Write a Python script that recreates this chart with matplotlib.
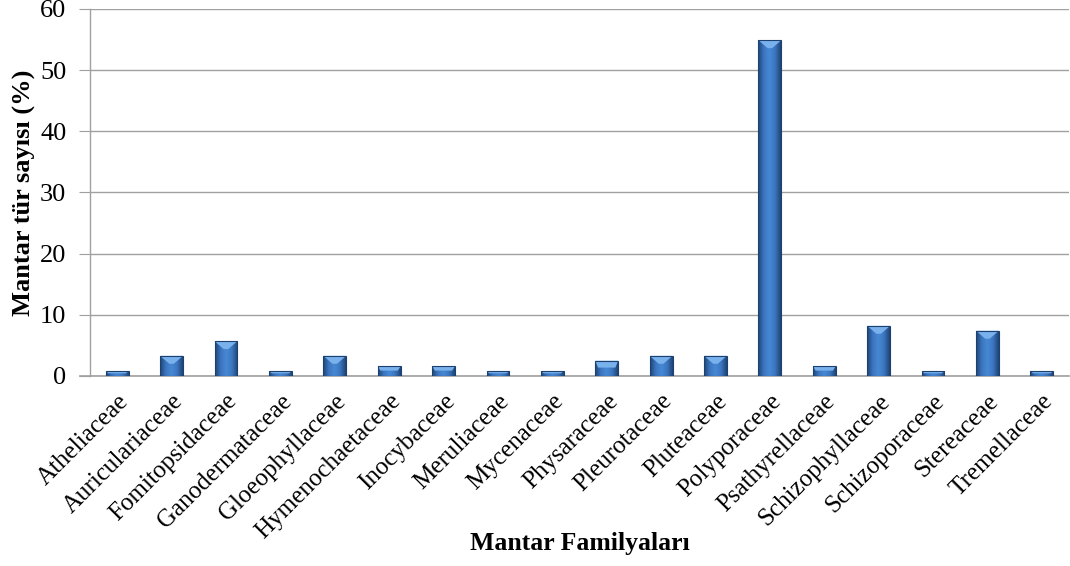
import numpy as np
import matplotlib
matplotlib.use("Agg")
import matplotlib.pyplot as plt
from matplotlib.colors import LinearSegmentedColormap
from matplotlib.patches import Polygon

families = ["Atheliaceae", "Auriculariaceae", "Fomitopsidaceae", "Ganodermataceae",
            "Gloeophyllaceae", "Hymenochaetaceae", "Inocybaceae", "Meruliaceae",
            "Mycenaceae", "Physaraceae", "Pleurotaceae", "Pluteaceae",
            "Polyporaceae", "Psathyrellaceae", "Schizophyllaceae", "Schizoporaceae",
            "Stereaceae", "Tremellaceae"]
percent = [0.8, 3.3, 5.7, 0.8, 3.3, 1.6, 1.6, 0.8, 0.8, 2.5, 3.3, 3.3,
           54.9, 1.6, 8.2, 0.8, 7.4, 0.8]
yticks = [0, 10, 20, 30, 40, 50, 60]

plt.rcParams['font.family'] = ['Liberation Serif', 'DejaVu Serif']

fig = plt.figure(figsize=(10.7, 5.66), dpi=100)
ax = fig.add_axes([0.0841, 0.3357, 0.915, 0.6484])

x = np.arange(len(families))
width = 0.42
bars = ax.bar(x, percent, width=width, color="#3a70b4", edgecolor="#1d416f",
              linewidth=0.8, zorder=3)

# horizontal shading across each bar
shade = LinearSegmentedColormap.from_list(
    "shade", ["#1f4576", "#3b76c0", "#4688d4", "#3b76c0", "#1f4576"])
grad = np.linspace(0, 1, 64).reshape(1, -1)
for b, v in zip(bars, percent):
    x0 = b.get_x()
    im = ax.imshow(grad, cmap=shade, aspect="auto", zorder=3.5,
                   extent=[x0, x0 + width, 0, v], interpolation="bilinear")
    im.set_clip_path(b)
    # light bevel on top
    depth = min(1.3, v * 0.45)
    inset = width * 0.4 if v > 2.5 else width * 0.12
    top = Polygon([[x0, v], [x0 + width, v], [x0 + width - inset, v - depth],
                   [x0 + inset, v - depth]], closed=True,
                  facecolor="#79b1ec", edgecolor="none", zorder=4)
    ax.add_patch(top)
    b.set_zorder(5)
    b.set_facecolor("none")

ax.set_xlim(-0.5, len(families) - 0.5)
ax.set_ylim(0, 60)
ax.set_yticks(yticks)
ax.yaxis.grid(True, color="#a0a0a0", linewidth=1.0, zorder=0)
ax.set_axisbelow(True)

for s in ["top", "right", "bottom"]:
    ax.spines[s].set_visible(False)
ax.spines["left"].set_color("#a0a0a0")
ax.spines["left"].set_linewidth(1.0)
ax.axhline(0, color="#a0a0a0", linewidth=1.2, zorder=2, xmin=-0.01, clip_on=False)

ax.tick_params(axis="y", length=8, color="#a0a0a0", labelsize=19, pad=9)
ax.tick_params(axis="x", length=0, labelsize=18, pad=10)
ax.set_xticks(x)
ax.set_xticklabels(families, rotation=45, ha="right", rotation_mode="anchor")

ax.set_ylabel("Mantar tür sayısı (%)", fontsize=19, fontweight="bold")
ax.yaxis.set_label_coords(-0.055, 0.5)
fig.text(0.542, 0.04, "Mantar Familyaları", ha="center", va="center",
         fontsize=18.5, fontweight="bold")

fig.savefig("out.png", dpi=100)
